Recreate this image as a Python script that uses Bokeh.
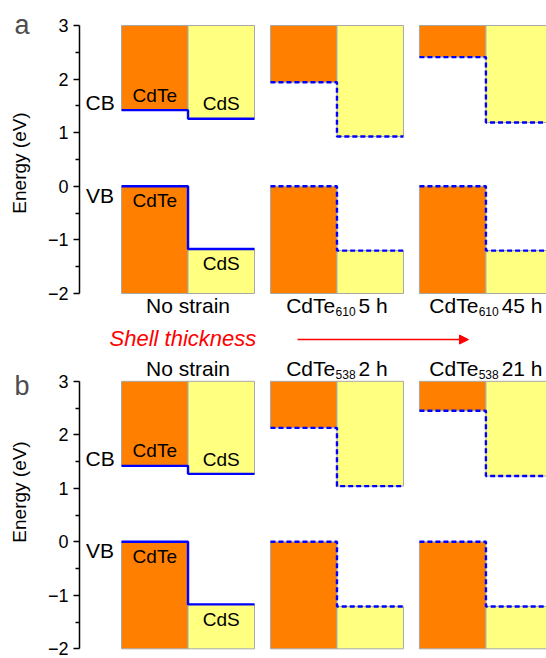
from bokeh.plotting import figure
from bokeh.layouts import column
from bokeh.models import (ColumnDataSource, LinearAxis, FixedTicker,
                          Arrow, NormalHead, Range1d)
from bokeh.core.properties import value
from bokeh.embed import file_html
from bokeh.resources import INLINE

FONT = "Liberation Sans"

# ---------------- data ----------------
materials = ["CdTe", "CdS"]
band_labels = ["CB", "VB"]
energy_ticks = [-2, -1, 0, 1, 2, 3]
strained = [False, True, True]
arrow_text = "Shell thickness"

# panel a
titles_a = ["No strain", "CdTe", "CdTe"]
subs_a = ["", "610", "610"]
tails_a = ["", "5 h", "45 h"]
cdte_cb_a = [1.42, 1.94, 2.41]
cds_cb_a = [1.26, 0.93, 1.19]
cdte_vb_a = [0.0, 0.0, 0.0]
cds_vb_a = [-1.17, -1.20, -1.20]

# panel b
titles_b = ["No strain", "CdTe", "CdTe"]
subs_b = ["", "538", "538"]
tails_b = ["", "2 h", "21 h"]
cdte_cb_b = [1.42, 2.13, 2.45]
cds_cb_b = [1.27, 1.04, 1.23]
cdte_vb_b = [0.0, 0.0, 0.0]
cds_vb_b = [-1.17, -1.21, -1.21]

# ---------------- layout constants ----------------
GROUP = 2.24          # spacing between diagrams (x units)
X0, X1 = -0.632, 6.391
ORANGE = "#FF8000"
YELLOW = "#FFFF80"
BLUE = "#0000FF"
EDGE = "#A8A8A8"
BLC = 0.36            # baseline correction factor (fraction of font size)

AW = {'C': 0.722, 'd': 0.556, 'T': 0.611, 'e': 0.556, ' ': 0.278, 'h': 0.556}


def tw(s, size):
    return sum(AW.get(c, 0.556) for c in s) * size


def txt(p, x, y, text, size, dy=0.0, dx=0.0, align="center", **kw):
    p.text(x=x, y=y, text=text, x_offset=dx, y_offset=dy - BLC * size,
           text_font=value(FONT), text_font_size=value(f"{size}px"),
           text_align=align, text_baseline="alphabetic", **kw)


def make_panel(height, y0, y1, cte_cb, cs_cb, cte_vb, cs_vb,
               titles, subs, tails, title_y, letter, letter_y):
    p = figure(width=546, height=height,
               x_range=Range1d(X0, X1), y_range=Range1d(y0, y1),
               x_axis_type=None, y_axis_type=None,
               toolbar_location=None, output_backend="svg",
               min_border_left=79, min_border_right=0,
               min_border_top=0, min_border_bottom=0)
    p.outline_line_color = None

    lo, hi = energy_ticks[0], energy_ticks[-1]
    ax = LinearAxis(ticker=FixedTicker(ticks=energy_ticks,
                                       minor_ticks=[t + 0.5 for t in energy_ticks[:-1]]),
                    bounds=(lo, hi), axis_label="Energy (eV)")
    ax.axis_line_width = 1.5
    ax.major_tick_line_width = 1.5
    ax.minor_tick_line_width = 1.5
    ax.major_tick_out = 6
    ax.major_tick_in = 0
    ax.minor_tick_out = 4
    ax.minor_tick_in = 0
    ax.major_label_standoff = 5
    ax.major_label_text_font = FONT
    ax.major_label_text_font_size = "18px"
    ax.major_label_text_color = "black"
    ax.axis_label_text_font = FONT
    ax.axis_label_text_font_size = "19px"
    ax.axis_label_text_font_style = "normal"
    ax.axis_label_text_color = "black"
    ax.axis_label_standoff = 15
    p.add_layout(ax, "left")

    # panel letter, carried by an outer axis with one labelled tick
    lax = LinearAxis(ticker=FixedTicker(ticks=[letter_y], minor_ticks=[]),
                     major_label_overrides={letter_y: letter})
    lax.axis_line_color = None
    lax.major_tick_line_color = None
    lax.minor_tick_line_color = None
    lax.major_tick_out = 0
    lax.major_tick_in = 0
    lax.major_label_standoff = -24
    lax.major_label_text_font = FONT
    lax.major_label_text_font_size = "27px"
    lax.major_label_text_color = "#4d4d4d"
    p.add_layout(lax, "left")

    g = [i * GROUP for i in range(len(cte_cb))]

    # bars
    left, right, bottom, top, color = [], [], [], [], []
    for i, gx in enumerate(g):
        left += [gx, gx + 1, gx, gx + 1]
        right += [gx + 1, gx + 2, gx + 1, gx + 2]
        bottom += [cte_cb[i], cs_cb[i], lo, lo]
        top += [hi, hi, cte_vb[i], cs_vb[i]]
        color += [ORANGE, YELLOW, ORANGE, YELLOW]
    src = ColumnDataSource(dict(left=left, right=right, bottom=bottom, top=top, color=color))
    p.quad(left="left", right="right", bottom="bottom", top="top", source=src,
           fill_color="color", line_color=EDGE, line_width=1)

    # band edge lines
    for flag, dash in [(False, "solid"), (True, "5 3")]:
        xs, ys = [], []
        for i, gx in enumerate(g):
            if strained[i] != flag:
                continue
            xs += [[gx, gx + 1, gx + 1, gx + 2], [gx, gx + 1, gx + 1, gx + 2]]
            ys += [[cte_cb[i], cte_cb[i], cs_cb[i], cs_cb[i]],
                   [cte_vb[i], cte_vb[i], cs_vb[i], cs_vb[i]]]
        if xs:
            p.multi_line(xs=xs, ys=ys, line_color=BLUE, line_width=2.4,
                         line_dash=dash)

    # CB / VB labels
    txt(p, [-0.323], [cte_cb[0]], [band_labels[0]], 21, dy=0)
    txt(p, [-0.323], [cte_vb[0]], [band_labels[1]], 21, dy=16.5)

    # material labels in the unstrained diagram
    txt(p, [g[0] + 0.5, g[0] + 1.5], [cte_cb[0], cs_cb[0]], materials, 19, dy=-8)
    txt(p, [g[0] + 0.5, g[0] + 1.5], [cte_vb[0], cs_vb[0]], materials, 19, dy=21.5)

    # diagram titles
    for i, gx in enumerate(g):
        cx = gx + 1
        if not subs[i]:
            txt(p, [cx], [title_y], [titles[i]], 21)
            continue
        wm = tw(titles[i], 21) - 2
        ws = tw(subs[i], 12)
        wt = tw(tails[i], 21)
        total = wm + ws + 3 + wt
        start = -total / 2
        txt(p, [cx], [title_y], [titles[i]], 21, dx=start, align="left")
        txt(p, [cx], [title_y], [subs[i]], 12, dx=start + wm, dy=2.5, align="left")
        txt(p, [cx], [title_y], [tails[i]], 21, dx=start + wm + ws + 3, align="left")
    return p


pa = make_panel(325, -2.597, 3.466, cdte_cb_a, cds_cb_a, cdte_vb_a, cds_vb_a,
                titles_a, subs_a, tails_a, -2.373, "a", 3.0)
pb = make_panel(333, -2.181, 4.043, cdte_cb_b, cds_cb_b, cdte_vb_b, cds_vb_b,
                titles_b, subs_b, tails_b, 3.095, "b", 2.92)

txt(pb, [-0.18], [3.650], [arrow_text], 22, align="left",
    text_font_style="italic", text_color="#FF0000")
pb.add_layout(Arrow(end=NormalHead(size=9, fill_color="#FF0000", line_color="#FF0000"),
                    x_start=2.647, y_start=3.78, x_end=5.218, y_end=3.78,
                    line_color="#FF0000", line_width=1.5))

layout = column(pa, pb, spacing=0)
open("out.html", "w").write(file_html(layout, INLINE))
